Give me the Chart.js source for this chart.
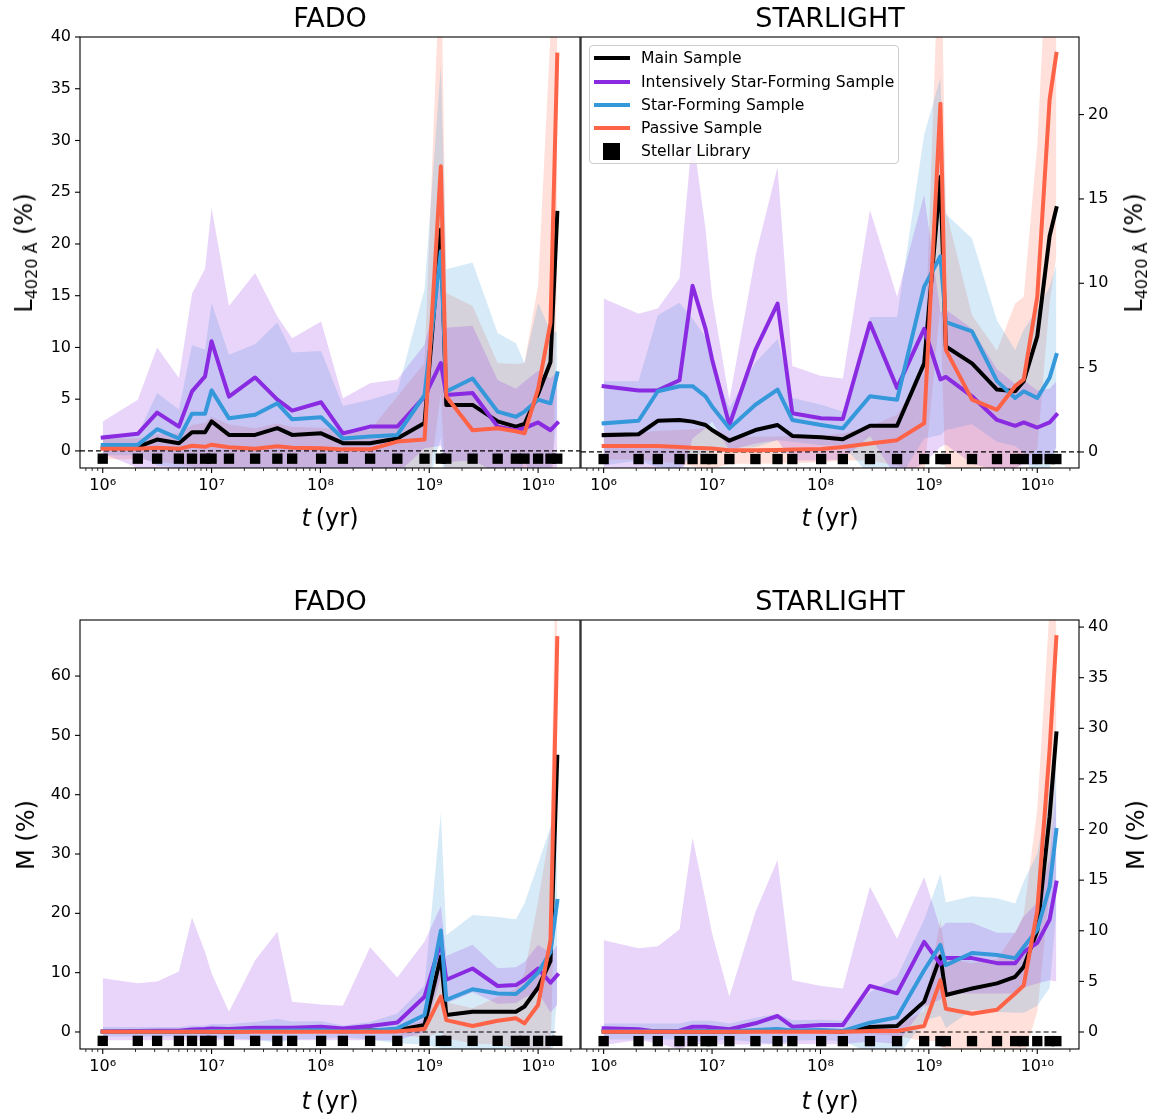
<!DOCTYPE html>
<html><head><meta charset="utf-8">
<script src="https://cdn.jsdelivr.net/npm/chart.js@4.4.1/dist/chart.umd.min.js"></script>
<style>
body{margin:0;background:#fff;width:1153px;height:1118px;position:relative;overflow:hidden;font-family:"DejaVu Sans",sans-serif;color:#000;}
canvas{position:absolute;}
.t{position:absolute;white-space:nowrap;line-height:1;}
.ttl{font-size:27px;transform:translateX(-50%);}
.xl{font-size:24px;transform:translateX(-50%);}
.yl{font-size:24px;transform:translate(-50%,-50%) rotate(-90deg);}
.yl sub{font-size:16px;vertical-align:-5px;}
#legend{position:absolute;left:589px;top:45px;width:308px;height:117px;border:1px solid #cccccc;border-radius:4px;background:rgba(255,255,255,0.8);}
.lrow{position:absolute;left:0;height:0;}
.lline{position:absolute;left:4px;width:36px;height:4px;top:-2px;}
.lsq{position:absolute;left:13px;width:17px;height:17px;top:-8px;background:#000;}
.ltxt{position:absolute;left:51px;top:-9px;font-size:15.6px;line-height:18px;white-space:nowrap;}
</style></head><body>
<canvas id="c1" width="581" height="540" style="left:0;top:0"></canvas>
<canvas id="c2" width="573" height="540" style="left:580px;top:0"></canvas>
<canvas id="c3" width="581" height="559" style="left:0;top:559px"></canvas>
<canvas id="c4" width="573" height="559" style="left:580px;top:559px"></canvas>

<div class="t ttl" style="left:330px;top:4px">FADO</div>
<div class="t ttl" style="left:830px;top:4px">STARLIGHT</div>
<div class="t ttl" style="left:330px;top:587px">FADO</div>
<div class="t ttl" style="left:830px;top:587px">STARLIGHT</div>
<div class="t xl" style="left:330px;top:506px"><i>t</i>&#8201;(yr)</div>
<div class="t xl" style="left:830px;top:506px"><i>t</i>&#8201;(yr)</div>
<div class="t xl" style="left:330px;top:1089px"><i>t</i>&#8201;(yr)</div>
<div class="t xl" style="left:830px;top:1089px"><i>t</i>&#8201;(yr)</div>
<div class="t yl" style="left:26px;top:253px">L<sub>4020 Å</sub> (%)</div>
<div class="t yl" style="left:1136px;top:253px">L<sub>4020 Å</sub> (%)</div>
<div class="t yl" style="left:26px;top:835px">M (%)</div>
<div class="t yl" style="left:1136px;top:835px">M (%)</div>
<div id="legend"></div>

<script>
// ---------------- data ----------------
const ages = [1e6, 2.1e6, 3.16e6, 5.01e6, 6.61e6, 8.71e6, 1e7, 1.445e7, 2.512e7, 4.02e7, 5.5e7, 1.015e8, 1.609e8, 2.861e8, 5.088e8, 9.048e8, 1.278e9, 1.434e9, 2.5e9, 4.25e9, 6.25e9, 7.5e9, 1e10, 1.3e10, 1.5e10];
const xTickValues = [1e6, 1e7, 1e8, 1e9, 1e10];
const xTickLabels = ['10⁶', '10⁷', '10⁸', '10⁹', '10¹⁰'];
const seriesNames = ['Main Sample', 'Intensively Star-Forming Sample', 'Star-Forming Sample', 'Passive Sample'];
const libraryName = 'Stellar Library';

const yTicksTL = [0, 5, 10, 15, 20, 25, 30, 35, 40];
const yTicksTR = [0, 5, 10, 15, 20];
const yTicksBL = [0, 10, 20, 30, 40, 50, 60];
const yTicksBR = [0, 5, 10, 15, 20, 25, 30, 35, 40];

// FADO, light fraction L4020 (%)
const fadoL_main = [0.3, 0.4, 1.1, 0.75, 1.8, 1.8, 2.85, 1.55, 1.55, 2.2, 1.55, 1.7, 0.75, 0.75, 1.2, 2.7, 21.4, 4.45, 4.45, 2.85, 2.35, 2.6, 5.5, 8.6, 23.0];
const fadoL_isf = [1.3, 1.65, 3.7, 2.35, 5.75, 7.2, 10.6, 5.25, 7.1, 4.95, 3.9, 4.7, 1.7, 2.35, 2.35, 5.25, 8.5, 5.4, 5.6, 2.35, 2.0, 2.2, 2.75, 2.0, 2.7];
const fadoL_sf = [0.58, 0.58, 2.1, 1.2, 3.6, 3.6, 5.85, 3.15, 3.5, 4.6, 3.05, 3.25, 1.2, 1.4, 1.55, 5.4, 19.3, 5.75, 7.0, 3.8, 3.3, 3.8, 4.95, 4.6, 7.5];
const fadoL_pas = [0.2, 0.2, 0.3, 0.2, 0.5, 0.4, 0.6, 0.35, 0.2, 0.45, 0.3, 0.25, 0.15, 0.15, 0.9, 1.1, 27.5, 5.25, 2.0, 2.2, 1.9, 1.7, 6.0, 12.4, 38.3];
const fadoL_isfSd = [1.55, 3.3, 6.3, 4.7, 9.45, 10.4, 12.9, 8.75, 10.1, 8.05, 7.0, 7.8, 3.4, 4.2, 4.55, 5.0, 8.0, 6.5, 6.5, 4.5, 4.0, 4.5, 5.0, 5.0, 5.0];
const fadoL_sfSd = [1.0, 1.0, 3.5, 2.8, 6.6, 6.2, 8.45, 6.15, 6.8, 7.8, 6.45, 6.4, 3.15, 3.55, 4.2, 10.2, 18.0, 11.8, 11.2, 7.6, 7.1, 4.7, 9.35, 7.0, 4.0];
const fadoL_pasSd = [1.0, 1.0, 1.3, 1.5, 2.0, 2.3, 2.7, 2.2, 2.0, 2.2, 2.0, 2.0, 1.85, 1.85, 4.35, 7.4, 22.0, 10.0, 12.0, 6.3, 6.5, 6.8, 10.0, 28.0, 20.0];

// STARLIGHT, light fraction L4020 (%)
const starL_main = [1.0, 1.05, 1.85, 1.9, 1.8, 1.6, 1.3, 0.67, 1.3, 1.6, 0.95, 0.87, 0.75, 1.55, 1.55, 5.25, 16.3, 6.25, 5.25, 3.7, 3.6, 4.2, 6.85, 12.8, 14.45];
const starL_isf = [3.9, 3.65, 3.65, 4.25, 9.85, 7.3, 5.5, 1.6, 6.05, 8.8, 2.3, 2.0, 1.95, 7.65, 3.8, 7.3, 4.3, 4.45, 3.3, 1.9, 1.55, 1.75, 1.45, 1.75, 2.2];
const starL_sf = [1.7, 1.85, 3.6, 3.9, 3.9, 3.3, 2.7, 1.4, 2.8, 3.7, 1.9, 1.6, 1.4, 3.3, 3.1, 9.8, 11.6, 7.7, 7.15, 4.2, 3.2, 3.6, 3.2, 4.4, 5.75];
const starL_pas = [0.36, 0.35, 0.35, 0.3, 0.25, 0.22, 0.2, 0.1, 0.1, 0.12, 0.15, 0.18, 0.3, 0.5, 0.7, 1.7, 20.65, 6.05, 3.1, 2.5, 3.9, 4.3, 9.2, 20.9, 23.6];
const starL_isfSd = [5.2, 4.55, 4.85, 6.05, 9.05, 5.9, 3.7, 1.5, 5.55, 8.1, 2.8, 2.5, 2.4, 6.7, 5.4, 7.95, 4.0, 4.0, 4.0, 3.0, 2.5, 2.5, 2.2, 2.0, 2.0];
const starL_sfSd = [2.5, 2.35, 4.5, 4.95, 4.0, 3.5, 2.5, 1.2, 2.5, 3.0, 1.3, 1.2, 1.0, 4.7, 4.9, 9.0, 10.6, 6.4, 5.5, 3.6, 2.85, 3.65, 5.25, 5.4, 5.35];
const starL_pasSd = [0.8, 0.8, 0.9, 1.0, 1.1, 1.2, 1.2, 0.8, 0.8, 0.8, 0.8, 0.8, 0.8, 1.0, 1.5, 3.0, 12.0, 8.3, 5.0, 3.5, 4.9, 4.9, 9.0, 12.0, 12.0];

// FADO, mass fraction M (%)
const fadoM_main = [0.05, 0.05, 0.05, 0.05, 0.1, 0.1, 0.1, 0.1, 0.15, 0.15, 0.15, 0.2, 0.2, 0.25, 0.3, 1.2, 12.7, 2.85, 3.4, 3.4, 3.4, 4.3, 7.5, 12.0, 46.4];
const fadoM_isf = [0.1, 0.15, 0.2, 0.2, 0.4, 0.5, 0.6, 0.5, 0.7, 0.7, 0.7, 0.9, 0.6, 1.0, 1.6, 5.95, 15.2, 8.8, 10.7, 7.75, 7.9, 8.8, 10.7, 8.3, 9.6];
const fadoM_sf = [0.05, 0.05, 0.05, 0.05, 0.1, 0.1, 0.15, 0.15, 0.2, 0.2, 0.25, 0.3, 0.1, 0.2, 0.6, 2.85, 17.1, 5.4, 7.2, 6.5, 6.4, 7.6, 10.0, 13.5, 22.1];
const fadoM_pas = [0.02, 0.02, 0.02, 0.02, 0.03, 0.03, 0.03, 0.03, 0.03, 0.03, 0.03, 0.05, 0.05, 0.05, 0.1, 0.5, 5.95, 2.0, 1.0, 1.9, 2.3, 1.45, 4.55, 15.5, 66.4];
const fadoM_isfSd = [8.95, 8.05, 8.3, 10.0, 18.9, 13.0, 9.3, 2.9, 11.4, 16.2, 4.4, 3.75, 3.8, 13.3, 7.6, 9.3, 6.0, 4.0, 4.0, 3.0, 3.0, 3.0, 4.0, 5.0, 5.0];
const fadoM_isfSdLo = [1.5, 1.55, 1.6, 1.6, 1.8, 1.9, 2.0, 1.9, 2.1, 2.1, 2.1, 2.3, 2.0, 2.4, 3.0, 6.0, 6.0, 4.0, 4.0, 3.0, 3.0, 3.0, 4.0, 5.0, 5.0];
const fadoM_sfSd = [0.8, 0.8, 0.8, 0.8, 1.0, 1.0, 1.2, 1.2, 1.5, 2.0, 1.5, 1.5, 1.0, 1.5, 2.5, 5.0, 19.8, 10.9, 12.5, 12.9, 12.6, 14.1, 18.3, 21.1, 16.0];
const fadoM_pasSd = [0.1, 0.1, 0.1, 0.1, 0.1, 0.1, 0.1, 0.1, 0.1, 0.1, 0.1, 0.2, 0.2, 0.3, 0.5, 1.5, 6.0, 3.0, 3.0, 4.0, 5.0, 8.5, 17.5, 19.0, 25.0];

// STARLIGHT, mass fraction M (%)
const starM_main = [0.05, 0.05, 0.05, 0.05, 0.05, 0.05, 0.05, 0.05, 0.1, 0.1, 0.1, 0.1, 0.05, 0.5, 0.6, 3.0, 7.45, 3.65, 4.3, 4.8, 5.45, 6.45, 10.0, 21.3, 29.5];
const starM_isf = [0.36, 0.27, 0.03, 0.13, 0.52, 0.52, 0.45, 0.27, 0.86, 1.58, 0.52, 0.69, 0.69, 4.55, 3.82, 8.9, 6.7, 7.3, 7.3, 6.8, 6.8, 7.9, 8.8, 11.1, 14.75];
const starM_sf = [0.05, 0.05, 0.05, 0.05, 0.1, 0.1, 0.1, 0.05, 0.2, 0.3, 0.15, 0.2, 0.1, 0.92, 1.45, 6.1, 8.6, 6.6, 7.8, 7.6, 7.3, 8.4, 10.1, 14.35, 19.95];
const starM_pas = [0.02, 0.02, 0.02, 0.02, 0.02, 0.02, 0.02, 0.02, 0.02, 0.02, 0.02, 0.03, 0.03, 0.1, 0.1, 0.6, 5.1, 2.3, 1.8, 2.2, 3.8, 4.6, 12.0, 27.9, 39.0];
const starM_isfSd = [8.7, 8.0, 8.45, 10.0, 18.7, 12.5, 9.3, 3.2, 11.0, 15.4, 4.6, 3.85, 3.6, 9.8, 5.4, 6.4, 3.5, 3.5, 3.5, 3.0, 3.0, 3.5, 4.0, 6.0, 9.75];
const starM_isfSdLo = [1.64, 1.07, 1.15, 1.85, 1.7, 1.7, 1.65, 1.5, 2.1, 2.8, 1.7, 1.9, 1.9, 5.5, 5.0, 6.4, 3.5, 3.5, 3.5, 3.0, 3.0, 3.5, 4.0, 6.0, 9.75];
const starM_sfSd = [0.8, 0.8, 0.8, 0.8, 1.0, 1.0, 1.0, 0.8, 1.2, 1.5, 1.0, 1.0, 1.0, 3.0, 4.0, 5.0, 7.0, 6.2, 5.6, 5.6, 5.4, 6.5, 7.5, 10.0, 8.0];
const starM_pasSd = [0.1, 0.1, 0.1, 0.1, 0.1, 0.1, 0.1, 0.1, 0.1, 0.1, 0.1, 0.2, 0.2, 0.3, 0.5, 1.5, 6.0, 5.0, 5.0, 5.0, 6.0, 7.0, 10.0, 14.0, 12.0];

// level at which the stellar-library ages are marked in each panel
const libLevel = [-0.75, -0.42, -1.5, -0.9];

// ---------------- drawing ----------------
const XMIN = Math.pow(10, 5.7912), XMAX = Math.pow(10, 10.3849);
const COL = {main: '#000000', isf: '#8A2BE2', sf: '#3498DB', pas: '#FF6347'};
const FILL = {isf: 'rgba(138,43,226,0.2)', sf: 'rgba(52,152,219,0.2)', pas: 'rgba(255,99,71,0.2)'};
const FONT = {family: 'DejaVu Sans', size: 16};

const framePlugin = {
  id: 'frame',
  afterDraw(chart, args, opts) {
    const ctx = chart.ctx, a = chart.chartArea, xs = chart.scales.x, ys = chart.scales.y;
    ctx.save();
    ctx.strokeStyle = '#000';
    ctx.lineWidth = 1.1;
    ctx.strokeRect(a.left, a.top, a.right - a.left, a.bottom - a.top);
    for (let e = 5; e <= 10; e++) {
      for (let m = 1; m < 10; m++) {
        const v = m * Math.pow(10, e);
        if (v < xs.min || v > xs.max) continue;
        const px = xs.getPixelForValue(v);
        ctx.lineWidth = m === 1 ? 1.1 : 0.8;
        ctx.beginPath();
        ctx.moveTo(px, a.bottom);
        ctx.lineTo(px, a.bottom + (m === 1 ? 5 : 3));
        ctx.stroke();
      }
    }
    ctx.lineWidth = 1.1;
    for (const v of opts.yticks) {
      const py = ys.getPixelForValue(v);
      ctx.beginPath();
      if (opts.side === 'left') { ctx.moveTo(a.left, py); ctx.lineTo(a.left - 5, py); }
      else { ctx.moveTo(a.right, py); ctx.lineTo(a.right + 5, py); }
      ctx.stroke();
    }
    ctx.restore();
  }
};

function xy(vals) { return ages.map((a, i) => ({x: a, y: vals[i]})); }

function makePanel(id, p) {
  const ds = [];
  const bands = [['isf', p.isf, p.isfSd, p.isfSdLo], ['sf', p.sf, p.sfSd, null], ['pas', p.pas, p.pasSd, null]];
  bands.forEach(([k, m, sd, lo]) => {
    ds.push({data: xy(m.map((v, i) => v - (lo ? lo[i] : sd[i]))), borderColor: 'rgba(0,0,0,0)', borderWidth: 0, pointRadius: 0, fill: false, order: 20});
    ds.push({data: xy(m.map((v, i) => v + sd[i])), borderColor: 'rgba(0,0,0,0)', borderWidth: 0, pointRadius: 0, fill: '-1', backgroundColor: FILL[k], order: 20});
  });
  ds.push({data: [{x: p.zeroFrom, y: 0}, {x: p.zeroTo, y: 0}], borderColor: '#000', borderWidth: 1.2, borderDash: [5, 3], pointRadius: 0, fill: false, order: 15});
  const lines = [['main', p.main, 4], ['isf', p.isf, 3], ['sf', p.sf, 2], ['pas', p.pas, 1]];
  lines.forEach(([k, m, o], j) => {
    ds.push({label: seriesNames[j], data: xy(m), borderColor: COL[k], borderWidth: 4, pointRadius: 0, fill: false, tension: 0, borderJoinStyle: 'round', borderCapStyle: 'square', order: o});
  });
  ds.push({label: libraryName, data: ages.map(a => ({x: a, y: p.lib})), showLine: false, pointStyle: 'rect', pointRadius: 7.3, pointBackgroundColor: '#000', pointBorderWidth: 0, borderWidth: 0, order: 0});

  return new Chart(document.getElementById(id), {
    type: 'line',
    data: {datasets: ds},
    plugins: [framePlugin],
    options: {
      responsive: false, animation: false, devicePixelRatio: 1, events: [],
      layout: {padding: p.pad, autoPadding: false},
      plugins: {legend: {display: false}, tooltip: {enabled: false}, filler: {drawTime: 'beforeDatasetsDraw'}, frame: {side: p.side, yticks: p.yTicks}},
      scales: {
        x: {
          type: 'logarithmic', min: XMIN, max: XMAX,
          grid: {display: false, drawTicks: false}, border: {display: false},
          afterBuildTicks: s => { s.ticks = xTickValues.map(v => ({value: v})); },
          ticks: {autoSkip: false, maxRotation: 0, minRotation: 0, padding: 8, color: '#000', font: FONT,
                  callback: v => { const i = xTickValues.indexOf(v); return i >= 0 ? xTickLabels[i] : ''; }},
          afterFit: s => { s.height = p.xH; s.paddingLeft = 0; s.paddingRight = 0; }
        },
        y: {
          type: 'linear', position: p.side, min: p.ymin, max: p.ymax,
          grid: {display: false, drawTicks: false}, border: {display: false},
          afterBuildTicks: s => { s.ticks = p.yTicks.map(v => ({value: v})); },
          ticks: {padding: 9, color: '#000', font: FONT, callback: v => String(v)},
          afterFit: s => { s.width = p.yW; s.paddingTop = 0; s.paddingBottom = 0; }
        }
      }
    }
  });
}

makePanel('c1', {main: fadoL_main, isf: fadoL_isf, sf: fadoL_sf, pas: fadoL_pas, isfSd: fadoL_isfSd, sfSd: fadoL_sfSd, pasSd: fadoL_pasSd,
  lib: libLevel[0], ymin: -1.65, ymax: 40, yTicks: yTicksTL, side: 'left', yW: 80, xH: 72, pad: {top: 37, left: 0, right: 1, bottom: 0}, zeroFrom: XMIN, zeroTo: XMAX});
makePanel('c2', {main: starL_main, isf: starL_isf, sf: starL_sf, pas: starL_pas, isfSd: starL_isfSd, sfSd: starL_sfSd, pasSd: starL_pasSd,
  lib: libLevel[1], ymin: -0.95, ymax: 24.6, yTicks: yTicksTR, side: 'right', yW: 74, xH: 72, pad: {top: 37, left: 1, right: 0, bottom: 0}, zeroFrom: XMIN, zeroTo: XMAX});
makePanel('c3', {main: fadoM_main, isf: fadoM_isf, sf: fadoM_sf, pas: fadoM_pas, isfSd: fadoM_isfSd, isfSdLo: fadoM_isfSdLo, sfSd: fadoM_sfSd, pasSd: fadoM_pasSd,
  lib: libLevel[2], ymin: -2.87, ymax: 69.45, yTicks: yTicksBL, side: 'left', yW: 80, xH: 69, pad: {top: 61, left: 0, right: 1, bottom: 0}, zeroFrom: ages[0], zeroTo: ages[ages.length - 1]});
makePanel('c4', {main: starM_main, isf: starM_isf, sf: starM_sf, pas: starM_pas, isfSd: starM_isfSd, isfSdLo: starM_isfSdLo, sfSd: starM_sfSd, pasSd: starM_pasSd,
  lib: libLevel[3], ymin: -1.68, ymax: 40.7, yTicks: yTicksBR, side: 'right', yW: 74, xH: 69, pad: {top: 61, left: 1, right: 0, bottom: 0}, zeroFrom: ages[0], zeroTo: ages[ages.length - 1]});

// legend (top-right panel)
const legend = document.getElementById('legend');
const rowsY = [12, 35.5, 58.5, 81.5, 104.5];
const legendCols = [COL.main, COL.isf, COL.sf, COL.pas];
seriesNames.concat([libraryName]).forEach((name, i) => {
  const r = document.createElement('div');
  r.className = 'lrow';
  r.style.top = rowsY[i] + 'px';
  const mark = document.createElement('div');
  if (i < 4) { mark.className = 'lline'; mark.style.background = legendCols[i]; }
  else { mark.className = 'lsq'; }
  const tx = document.createElement('div');
  tx.className = 'ltxt';
  tx.textContent = name;
  r.appendChild(mark); r.appendChild(tx);
  legend.appendChild(r);
});
</script>
</body></html>
